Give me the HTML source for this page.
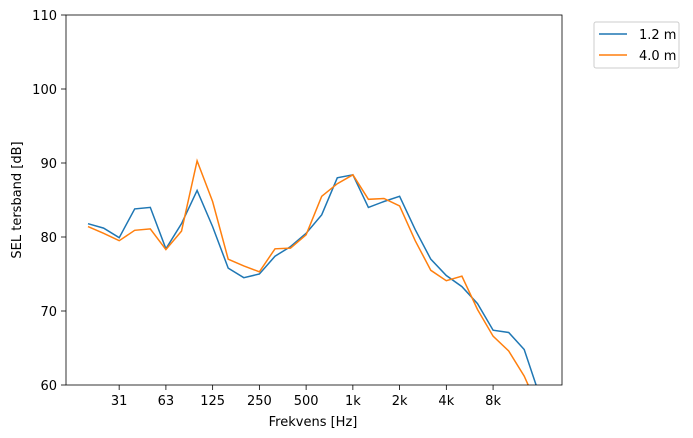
<!DOCTYPE html>
<html><head><meta charset="utf-8"><style>
html,body{margin:0;padding:0;background:#fff;}
svg{display:block;font-family:"DejaVu Sans","Liberation Sans",sans-serif;}
</style></head><body>
<svg id="s" width="693" height="438" xmlns="http://www.w3.org/2000/svg">
<defs><clipPath id="c"><rect x="66" y="15" width="496" height="370"/></clipPath></defs>
<rect x="66" y="15" width="496" height="370" fill="#fff"/>
<g id="series" clip-path="url(#c)"></g>
<rect x="66" y="15" width="496" height="370" fill="none" stroke="#000" stroke-width="0.8"/>
<g id="ticks" font-size="13" fill="#000"></g>
<text x="313" y="426" font-size="13" text-anchor="middle">Frekvens [Hz]</text>
<text transform="translate(21,200) rotate(-90)" font-size="13" text-anchor="middle">SEL tersband [dB]</text>
<rect x="594" y="22" width="85" height="46" fill="#fff" stroke="#ccc" stroke-width="1" rx="2"/>
<line x1="599" y1="34" x2="627" y2="34" stroke="#1f77b4" stroke-width="1.5"/>
<text x="639" y="39" font-size="13">1.2 m</text>
<line x1="599" y1="55" x2="627" y2="55" stroke="#ff7f0e" stroke-width="1.5"/>
<text x="639" y="60" font-size="13">4.0 m</text>
</svg>
<script>
var b=[81.8,81.2,79.9,83.8,84.0,78.4,81.8,86.3,81.4,75.8,74.5,75.0,77.4,78.7,80.5,83.0,88.0,88.4,84.0,84.8,85.5,81.0,77.0,74.8,73.3,71.0,67.4,67.1,64.8,58.5,52];
var o=[81.4,80.5,79.5,80.9,81.1,78.3,80.8,90.3,84.8,77.0,76.1,75.3,78.4,78.5,80.3,85.5,87.2,88.4,85.1,85.2,84.2,79.5,75.5,74.1,74.7,70.2,66.6,64.6,61.2,56.5,50];
function X(i){return 88+i*15.58;}function Y(v){return 385-(v-60)*7.4;}
function pl(d,c){return '<polyline fill="none" stroke="'+c+'" stroke-width="1.5" points="'+d.map(function(v,i){return X(i).toFixed(1)+','+Y(v).toFixed(1)}).join(' ')+'"/>';}
document.getElementById('series').innerHTML=pl(b,'#1f77b4')+pl(o,'#ff7f0e');
var t='';
var xl=['31','63','125','250','500','1k','2k','4k','8k'];
xl.forEach(function(l,k){var x=X(2+3*k);t+='<line x1="'+x+'" y1="385" x2="'+x+'" y2="390" stroke="#000" stroke-width="0.8"/><text x="'+x+'" y="405" text-anchor="middle">'+l+'</text>';});
for(var v=60;v<=110;v+=10){var y=Y(v);t+='<line x1="61" y1="'+y+'" x2="66" y2="'+y+'" stroke="#000" stroke-width="0.8"/><text x="57" y="'+(y+5)+'" text-anchor="end">'+v+'</text>';}
document.getElementById('ticks').innerHTML=t;
</script>
</body></html>
